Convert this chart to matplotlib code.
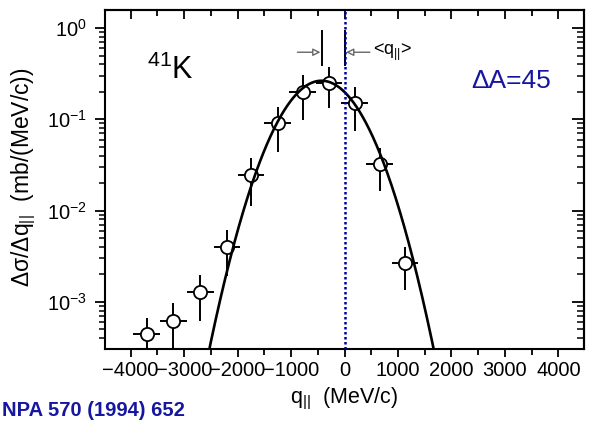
import numpy as np
import matplotlib
matplotlib.use('Agg')
import matplotlib.pyplot as plt
from matplotlib.ticker import FixedLocator, LogLocator, NullFormatter, FixedFormatter

# ---- data ----
q_values = [-3700, -3200, -2700, -2200, -1750, -1250, -780, -290, 190, 660, 1130]
xs_values = [4.4e-4, 6.2e-4, 1.29e-3, 4.0e-3, 0.0246, 0.090, 0.201, 0.252, 0.150, 0.0323, 0.00264]
xs_err = [2.3e-4, 3.4e-4, 6.7e-4, 2.1e-3, 0.0135, 0.046, 0.103, 0.12, 0.075, 0.016, 0.0013]
q_err = [250, 250, 250, 250, 250, 250, 250, 250, 250, 250, 250]

# Gaussian fit parameters
fit_center = -430
fit_sigma = 570
fit_peak = 0.265

mean_q = -430          # <q_par> marker
x_tick_values = [-4000, -3000, -2000, -1000, 0, 1000, 2000, 3000, 4000]
x_tick_labels = ['\u22124000', '\u22123000', '\u22122000', '\u22121000', '0', '1000', '2000', '3000', '4000']
y_tick_values = [1e-3, 1e-2, 1e-1, 1e0]
y_tick_labels = [r'$10^{-3}$', r'$10^{-2}$', r'$10^{-1}$', r'$10^{0}$']

plt.rcParams['font.family'] = ['Liberation Sans', 'DejaVu Sans']
plt.rcParams['mathtext.fontset'] = 'custom'
plt.rcParams['mathtext.rm'] = 'Liberation Sans'
plt.rcParams['mathtext.it'] = 'Liberation Sans'
plt.rcParams['mathtext.bf'] = 'Liberation Sans:bold'

fig = plt.figure(figsize=(5.89, 4.22), dpi=100)
ax = fig.add_axes([105/589, 1-349/422, (584-105)/589, (349-10)/422])
ax.set_yscale('log')
ax.set_xlim(-4480, 4480)
ax.set_ylim(3.03e-4, 1.58)

# fit curve
qq = np.linspace(-4480, 4480, 800)
ax.plot(qq, fit_peak*np.exp(-(qq-fit_center)**2/(2*fit_sigma**2)),
        color='black', lw=1.9, zorder=5, clip_on=True)

# data
ax.errorbar(q_values, xs_values, yerr=xs_err, xerr=q_err, fmt='o', ms=9.5,
            mfc='white', mec='black', mew=1.3, ecolor='black', elinewidth=1.4,
            capsize=0, zorder=4)

# blue dotted line at 0
ax.axvline(0, color='#0000A0', ls=(0, (1, 1)), lw=1.8, zorder=6)

# <q_par> arrows
ax.plot([mean_q, mean_q], [0.394, 0.93], color='black', lw=1.4, zorder=3)
ax.plot([0, 0], [0.394, 0.93], color='black', lw=1.4, zorder=3)
ax.annotate('', xy=(mean_q-20, 0.544), xytext=(-880, 0.544),
            arrowprops=dict(arrowstyle='-|>', ec='#666666', fc='white', lw=1.0,
                            mutation_scale=11, shrinkA=0, shrinkB=0))
ax.annotate('', xy=(30, 0.544), xytext=(475, 0.544),
            arrowprops=dict(arrowstyle='-|>', ec='#666666', fc='white', lw=1.0,
                            mutation_scale=11, shrinkA=0, shrinkB=0))
ax.text(530, 0.544, r'<q$_{||}$>', fontsize=13, va='center', ha='left')

# texts
ax.text(0.088, 0.823, r'$^{41}$K', transform=ax.transAxes, fontsize=22, va='center', ha='left')
ax.text(0.765, 0.79, '\u0394A=45', transform=ax.transAxes, fontsize=19, va='center',
        ha='left', color='#1616A0')
fig.text(2/589, 1-420.5/422, 'NPA 570 (1994) 652', fontsize=14.5, fontweight='bold',
         color='#1616A0', va='bottom', ha='left')

# axis labels
fig.text(344/589, 1-399/422, r'q$_{||}$  (MeV/c)', fontsize=15.5, ha='center', va='center')
fig.text(24/589, 1-177/422, r'$\Delta\sigma$/$\Delta$q$_{||}$  (mb/(MeV/c))', fontsize=16.5,
         rotation=90, ha='center', va='center')

# ticks
for s in ax.spines.values():
    s.set_linewidth(1.5)
ax.xaxis.set_major_locator(FixedLocator(x_tick_values))
ax.xaxis.set_major_formatter(FixedFormatter(x_tick_labels))
ax.xaxis.set_minor_locator(FixedLocator(np.arange(-4500, 4501, 1000)))
ax.yaxis.set_major_locator(FixedLocator(y_tick_values))
ax.yaxis.set_major_formatter(FixedFormatter(y_tick_labels))
ax.yaxis.set_minor_locator(LogLocator(base=10, subs=np.arange(2, 10)))
ax.yaxis.set_minor_formatter(NullFormatter())
ax.tick_params(axis='x', which='major', direction='out', length=5.5, width=1.3,
               labelsize=14.5, pad=3, top=False)
ax.tick_params(axis='x', which='minor', direction='out', length=4, width=1.3, top=False)
ax.tick_params(axis='y', which='major', direction='out', length=7, width=1.3,
               labelsize=14.5, pad=6, right=False)
ax.tick_params(axis='y', which='minor', direction='out', length=4, width=1.1, right=False)

top = ax.secondary_xaxis('top')
top.xaxis.set_major_locator(FixedLocator(x_tick_values))
top.xaxis.set_minor_locator(FixedLocator(np.arange(-4500, 4501, 1000)))
top.tick_params(which='major', direction='in', length=6.5, width=1.3, labeltop=False)
top.tick_params(which='minor', direction='in', length=4.5, width=1.3)
top.spines['top'].set_linewidth(1.5)

right = ax.secondary_yaxis('right')
right.yaxis.set_major_locator(FixedLocator(y_tick_values))
right.yaxis.set_minor_locator(LogLocator(base=10, subs=np.arange(2, 10)))
right.yaxis.set_minor_formatter(NullFormatter())
right.tick_params(which='major', direction='in', length=8.5, width=1.3, labelright=False)
right.tick_params(which='minor', direction='in', length=5, width=1.1)
right.spines['right'].set_linewidth(1.5)

fig.savefig('out.png', dpi=100)
